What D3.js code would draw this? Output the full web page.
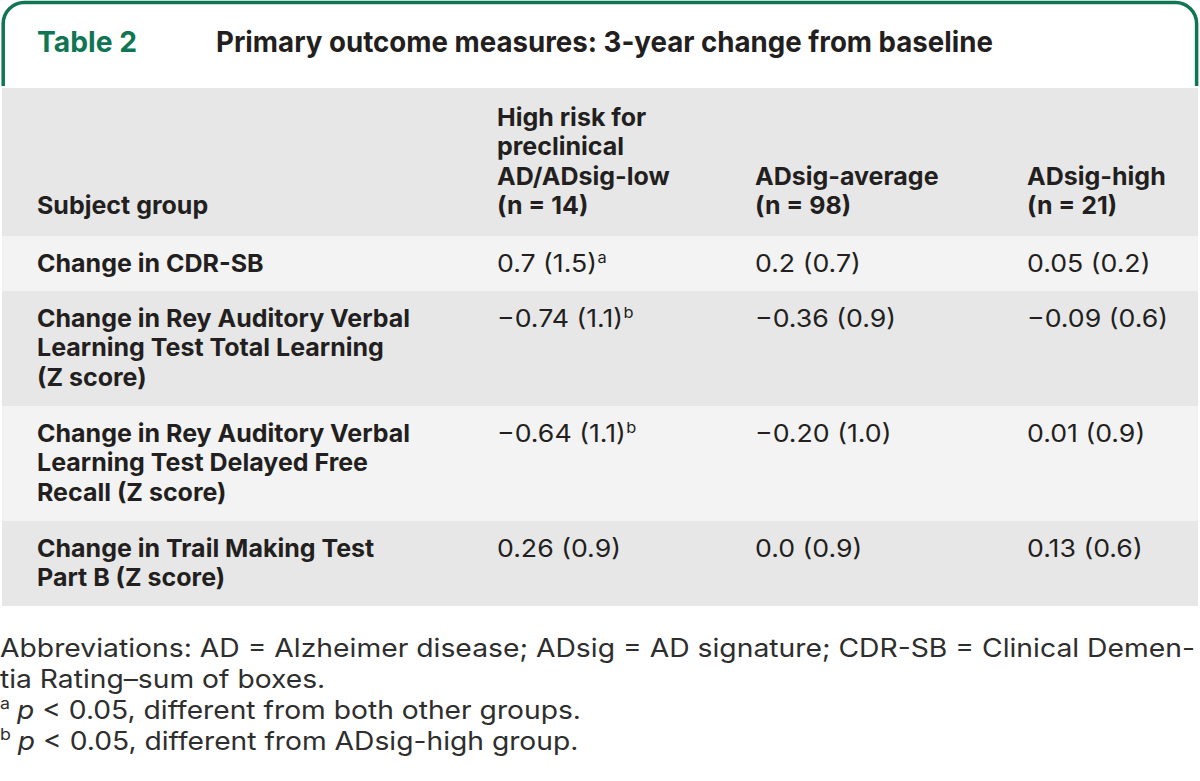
<!DOCTYPE html>
<html>
<head>
<meta charset="utf-8">
<script src="https://cdn.jsdelivr.net/npm/d3@7"></script>
<style>
  html, body { margin: 0; padding: 0; background: #ffffff; }
  svg { display: block; }
  text { white-space: pre; }
</style>
</head>
<body>
<svg id="chart" width="1200" height="781"></svg>
<script>
// ---------- data ----------
const tableLabel = "Table 2";
const tableTitle = "Primary outcome measures: 3-year change from baseline";

const headerLines = [
  ["Subject group"],
  ["High risk for", "preclinical", "AD/ADsig-low", "(n = 14)"],
  ["ADsig-average", "(n = 98)"],
  ["ADsig-high", "(n = 21)"]
];

const rowLabels = [
  ["Change in CDR-SB"],
  ["Change in Rey Auditory Verbal", "Learning Test Total Learning", "(Z score)"],
  ["Change in Rey Auditory Verbal", "Learning Test Delayed Free", "Recall (Z score)"],
  ["Change in Trail Making Test", "Part B (Z score)"]
];

const highRiskValues = ["0.7 (1.5)", "\u22120.74 (1.1)", "\u22120.64 (1.1)", "0.26 (0.9)"];
const highRiskNotes  = ["a", "b", "b", ""];
const averageValues  = ["0.2 (0.7)", "\u22120.36 (0.9)", "\u22120.20 (1.0)", "0.0 (0.9)"];
const highValues     = ["0.05 (0.2)", "\u22120.09 (0.6)", "0.01 (0.9)", "0.13 (0.6)"];

const footnotes = [
  { sup: "", italic: "", text: "Abbreviations: AD = Alzheimer disease; ADsig = AD signature; CDR-SB = Clinical Demen-", justify: true },
  { sup: "", italic: "", text: "tia Rating\u2013sum of boxes." },
  { sup: "a", italic: "p", text: " < 0.05, different from both other groups." },
  { sup: "b", italic: "p", text: " < 0.05, different from ADsig-high group." }
];

// ---------- style / layout ----------
const FONT = "Inter, Roboto, 'Liberation Sans', sans-serif";
const green = "#0f7552";
const ink = "#231f20";
const noteInk = "#2e2e2e";
const bandDark = "#e7e7e7";
const bandLight = "#f3f3f3";
const BODY_SIZE = 24.5, TITLE_SIZE = 29, SUP_SIZE = 15, NOTE_SIZE = 25.5;

const svg = d3.select("#chart");

function measure(str, weight, size, style) {
  const t = svg.append("text").attr("font-family", FONT).attr("font-weight", weight)
    .attr("font-size", size).attr("font-style", style || "normal").text(str);
  const w = t.node().getComputedTextLength();
  t.remove();
  return w;
}
const boldFactor = 373 / measure("Change in Rey Auditory Verbal", 700, BODY_SIZE);
const normFactor = 100 / measure("0.7 (1.5)", 400, BODY_SIZE);
const noteFactor = 1192 / measure(footnotes[0].text, 400, NOTE_SIZE);

function fit(sel, factor) {
  sel.each(function () {
    const w = this.getComputedTextLength();
    d3.select(this).attr("textLength", w * factor).attr("lengthAdjust", "spacingAndGlyphs");
  });
  return sel;
}

const tableLeft = 2, tableRight = 1198;
const colX = d3.scaleOrdinal().domain([0, 1, 2, 3]).range([37, 497, 755, 1027]);
const lineH = 29.3;
const headerTop = 88, headerBottom = 236;

const rowHeights = rowLabels.map(d => 25 + 30 * d.length);
const rowTops = [];
rowHeights.reduce((acc, h) => { rowTops.push(acc); return acc + h; }, headerBottom);

// ---------- green frame ----------
const r = 21, sw = 3.5, fx0 = 3.2, fx1 = 1196.6, fy0 = 2.5, fyB = 86;
svg.append("path")
  .attr("d", `M${fx0},${fyB} L${fx0},${fy0 + r} A${r},${r} 0 0 1 ${fx0 + r},${fy0} L${fx1 - r},${fy0} A${r},${r} 0 0 1 ${fx1},${fy0 + r} L${fx1},${fyB}`)
  .attr("fill", "none").attr("stroke", green).attr("stroke-width", sw);

svg.append("text").attr("x", 37).attr("y", 52)
  .attr("font-family", FONT).attr("font-weight", 700).attr("font-size", TITLE_SIZE)
  .attr("fill", green).text(tableLabel)
  .attr("textLength", 100).attr("lengthAdjust", "spacingAndGlyphs");
svg.append("text").attr("x", 216).attr("y", 52)
  .attr("font-family", FONT).attr("font-weight", 700).attr("font-size", TITLE_SIZE)
  .attr("fill", ink).text(tableTitle)
  .attr("textLength", 777).attr("lengthAdjust", "spacingAndGlyphs");

// ---------- bands ----------
svg.append("rect").attr("x", tableLeft).attr("y", headerTop)
  .attr("width", tableRight - tableLeft).attr("height", headerBottom - headerTop)
  .attr("fill", bandDark);

svg.selectAll("rect.row").data(rowHeights).join("rect")
  .attr("class", "row")
  .attr("x", tableLeft).attr("y", (d, i) => rowTops[i])
  .attr("width", tableRight - tableLeft).attr("height", d => d)
  .attr("fill", (d, i) => i % 2 === 0 ? bandLight : bandDark);

// ---------- header ----------
const hdr = svg.append("g").attr("font-family", FONT).attr("font-weight", 700)
  .attr("font-size", BODY_SIZE).attr("fill", ink);
headerLines.forEach((lines, c) => {
  const n = lines.length;
  fit(hdr.selectAll(null).data(lines).join("text")
    .attr("x", colX(c))
    .attr("y", (d, i) => headerBottom - 22 - (n - 1 - i) * lineH)
    .text(d => d), boldFactor);
});

// ---------- body ----------
const body = svg.append("g").attr("font-family", FONT).attr("font-size", BODY_SIZE).attr("fill", ink);
rowLabels.forEach((lines, ri) => {
  const top = rowTops[ri];
  fit(body.selectAll(null).data(lines).join("text")
    .attr("font-weight", 700)
    .attr("x", colX(0))
    .attr("y", (d, i) => top + 36 + i * lineH)
    .text(d => d), boldFactor);
  const cols = [[highRiskValues[ri], highRiskNotes[ri]], [averageValues[ri], ""], [highValues[ri], ""]];
  cols.forEach(([val, note], ci) => {
    const x0 = colX(ci + 1);
    const t = body.append("text").attr("x", x0).attr("y", top + 36).text(val);
    fit(t, normFactor);
    if (note) {
      const w = +t.attr("textLength");
      fit(body.append("text").attr("x", x0 + w + 0.5).attr("y", top + 36 - 9)
        .attr("font-size", SUP_SIZE).text(note), normFactor);
    }
  });
});

// ---------- footnotes ----------
const fn = svg.append("g").attr("font-family", FONT).attr("font-size", NOTE_SIZE).attr("fill", noteInk);
footnotes.forEach((f, i) => {
  const y = 657 + i * 31;
  let x = 0;
  if (f.sup) {
    const s = fit(fn.append("text").attr("x", x).attr("y", y - 10).attr("font-size", SUP_SIZE + 1).text(f.sup), noteFactor);
    x += +s.attr("textLength") + 7;
  }
  if (f.italic) {
    const it = fit(fn.append("text").attr("x", x).attr("y", y).attr("font-style", "italic").text(f.italic), noteFactor);
    x += +it.attr("textLength");
  }
  const t = fn.append("text").attr("x", x).attr("y", y).text(f.text);
  if (f.justify) {
    t.attr("textLength", 1195 - x).attr("lengthAdjust", "spacingAndGlyphs");
  } else {
    fit(t, noteFactor);
  }
});
</script>
</body>
</html>
